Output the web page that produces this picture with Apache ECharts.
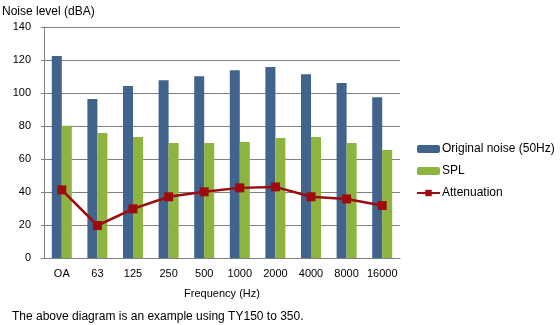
<!DOCTYPE html>
<html><head><meta charset="utf-8">
<script src="https://cdn.jsdelivr.net/npm/echarts@6/dist/echarts.min.js"></script>
<style>html,body{margin:0;padding:0;background:#fff}#c{width:560px;height:325px}</style>
</head><body><div id="c"></div>
<script>
const categories = ['OA','63','125','250','500','1000','2000','4000','8000','16000'];
const originalNoise = [122.5, 96.3, 104.2, 107.8, 110.2, 113.8, 115.7, 111.4, 106.0, 97.5];
const spl = [80.2, 75.8, 73.4, 69.7, 69.7, 70.3, 72.7, 73.3, 69.7, 65.5];
const attenuation = [41.3, 19.7, 29.8, 37.1, 40.1, 42.5, 43.1, 37.1, 35.8, 31.8];
const yTicks = [0, 20, 40, 60, 80, 100, 120, 140];

const font = 'Liberation Sans, Arial, sans-serif';
const chart = echarts.init(document.getElementById('c'), null, {renderer:'canvas'});
chart.setOption({
  animation: false,
  textStyle: {fontFamily: font},
  title: [
    {text: 'Noise level (dBA)', left: 2, top: 6, padding: 0, textStyle: {fontSize: 12, fontWeight: 'normal', color: '#000', fontFamily: font}},
    {text: 'The above diagram is an example using TY150 to 350.', left: 12, top: 311, padding: 0, textStyle: {fontSize: 12, fontWeight: 'normal', color: '#000', fontFamily: font}}
  ],
  grid: {left: 44, right: 160, top: 27, bottom: 67},
  legend: {
    orient: 'vertical', left: 416, top: 143, padding: 0, itemWidth: 23, itemHeight: 8, itemGap: 10,
    textStyle: {fontSize: 12, color: '#000', fontFamily: font, padding: [0,0,0,-3]},
    data: ['Original noise (50Hz)', 'SPL', 'Attenuation']
  },
  xAxis: {
    type: 'category', data: categories,
    name: 'Frequency (Hz)', nameLocation: 'middle', nameGap: 30,
    nameTextStyle: {fontSize: 11, color: '#000', fontFamily: font},
    axisLine: {lineStyle: {color: '#808080'}},
    axisTick: {show: false},
    axisLabel: {fontSize: 11, color: '#000', margin: 10, interval: 0}
  },
  yAxis: {
    type: 'value', min: 0, max: 140, interval: 20,
    axisLine: {show: true, lineStyle: {color: '#808080'}},
    axisTick: {show: true, length: 3, lineStyle: {color: '#808080'}},
    splitLine: {lineStyle: {color: '#808080'}},
    axisLabel: {fontSize: 11, color: '#000', margin: 13,
      formatter: v => yTicks.includes(v) ? String(v) : ''}
  },
  series: [
    {name: 'Original noise (50Hz)', type: 'bar', data: originalNoise, barWidth: 10, barGap: '0%', itemStyle: {color: '#41648C'}},
    {name: 'SPL', type: 'bar', data: spl, barWidth: 10, barGap: '0%', itemStyle: {color: '#8DB43E'}},
    {name: 'Attenuation', type: 'line', data: attenuation, symbol: 'rect', symbolSize: 9,
     lineStyle: {color: '#9E0B0F', width: 2.5}, itemStyle: {color: '#9E0B0F'}}
  ]
});
</script></body></html>
